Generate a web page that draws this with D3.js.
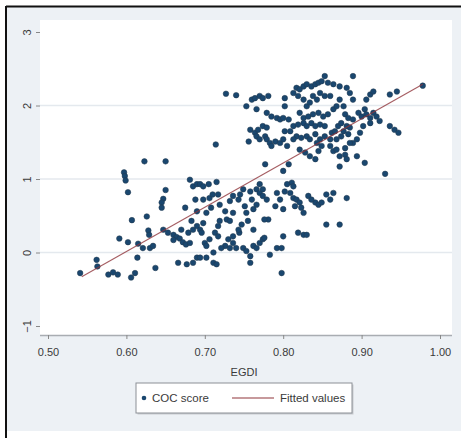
<!DOCTYPE html>
<html>
<head>
<meta charset="utf-8">
<script src="https://cdn.jsdelivr.net/npm/d3@7"></script>
<style>
  body { margin: 0; background: #fff; }
  text { font-family: "Liberation Sans", Arial, sans-serif; fill: #3a3a3a; }
</style>
</head>
<body>
<div id="svgHolderDiv"></div>
<script>
"use strict";

// tick values for both axes
var xTicks = [0.5, 0.6, 0.7, 0.8, 0.9, 1.0];
var yTicks = [-1, 0, 1, 2, 3];
var yGrid = [0, 1, 2];

// legend labels
var seriesNames = ["COC score", "Fitted values"];

// fitted values line (end points)
var fitX = [0.543, 0.978];
var fitY = [-0.33, 2.29];

// EGDI vs COC score, one pair per country-year
var points = [
  [0.541,-0.28],[0.562,-0.10],[0.563,-0.19],[0.577,-0.30],[0.583,-0.27],[0.589,-0.30],
  [0.591,0.19],[0.597,1.09],[0.598,1.04],[0.599,0.98],[0.602,0.82],[0.602,0.14],
  [0.606,-0.34],[0.611,-0.28],[0.607,0.44],[0.614,-0.07],[0.615,0.12],[0.621,0.06],
  [0.623,1.24],[0.626,0.49],[0.628,0.30],[0.629,0.24],[0.630,0.06],[0.637,-0.21],
  [0.647,0.31],[0.650,1.24],[0.650,0.85],[0.647,0.73],[0.645,0.68],[0.645,0.61],
  [0.634,0.09],[0.660,0.24],[0.664,0.21],[0.668,0.19],[0.672,0.14],[0.676,0.11],
  [0.679,0.27],[0.666,-0.14],[0.677,-0.16],[0.685,-0.14],[0.690,-0.07],[0.694,-0.07],
  [0.675,0.61],[0.681,0.99],[0.685,0.90],[0.690,0.93],[0.694,0.93],[0.698,0.90],
  [0.705,0.93],[0.715,0.96],[0.717,0.79],[0.683,0.43],[0.685,0.31],[0.690,0.36],
  [0.694,0.31],[0.698,0.40],[0.690,0.56],[0.698,0.72],[0.688,0.72],[0.702,0.54],
  [0.706,0.74],[0.710,0.79],[0.700,0.13],[0.702,0.09],[0.706,0.18],[0.702,-0.07],
  [0.711,-0.14],[0.715,-0.16],[0.713,0.27],[0.717,0.22],[0.717,0.36],[0.719,0.43],
  [0.728,0.45],[0.726,0.56],[0.732,0.43],[0.736,0.54],[0.743,0.72],[0.749,0.86],
  [0.751,0.63],[0.753,0.54],[0.758,0.83],[0.726,0.09],[0.732,0.06],[0.736,0.13],
  [0.740,0.06],[0.744,0.27],[0.749,0.06],[0.753,0.02],[0.758,-0.05],[0.758,-0.14],
  [0.762,0.09],[0.714,1.47],[0.727,2.16],[0.740,2.14],[0.760,0.72],[0.762,0.59],
  [0.766,0.86],[0.770,0.81],[0.774,0.77],[0.774,0.86],[0.779,0.72],[0.766,0.65],
  [0.770,0.13],[0.766,0.06],[0.774,0.18],[0.776,0.20],[0.783,-0.03],[0.781,0.45],
  [0.777,1.20],[0.792,0.06],[0.798,0.06],[0.800,0.22],[0.798,-0.28],[0.790,0.63],
  [0.800,0.59],[0.802,0.83],[0.800,1.11],[0.807,1.20],[0.811,0.95],[0.813,0.90],
  [0.813,0.74],[0.817,0.72],[0.821,0.68],[0.823,0.61],[0.826,0.54],[0.819,0.27],
  [0.826,0.24],[0.830,0.24],[0.841,0.68],[0.845,0.65],[0.849,0.68],[0.855,0.79],
  [0.860,0.72],[0.864,0.81],[0.881,0.74],[0.855,0.38],[0.872,0.38],[0.930,1.07],
  [0.805,0.93],[0.770,0.93],[0.753,1.99],[0.756,1.51],[0.758,1.67],[0.760,2.08],
  [0.764,2.10],[0.766,1.95],[0.770,2.13],[0.774,2.10],[0.781,2.13],[0.764,1.63],
  [0.768,1.67],[0.774,1.72],[0.779,1.70],[0.766,1.58],[0.770,1.54],[0.777,1.58],
  [0.779,1.54],[0.783,1.49],[0.785,1.45],[0.790,1.51],[0.796,1.49],[0.800,1.54],
  [0.805,1.45],[0.802,1.65],[0.779,1.90],[0.785,1.85],[0.792,1.83],[0.796,1.81],
  [0.800,1.83],[0.807,1.81],[0.802,1.99],[0.802,2.10],[0.813,2.17],[0.817,2.24],
  [0.821,2.22],[0.826,2.26],[0.830,2.29],[0.836,2.26],[0.841,2.29],[0.845,2.31],
  [0.849,2.33],[0.853,2.40],[0.857,2.31],[0.864,2.29],[0.872,2.26],[0.881,2.24],
  [0.889,2.40],[0.885,2.17],[0.889,2.08],[0.819,2.13],[0.826,2.08],[0.830,1.99],
  [0.834,2.04],[0.838,2.13],[0.843,2.08],[0.847,2.17],[0.853,2.13],[0.860,2.13],
  [0.821,1.90],[0.826,1.83],[0.832,1.85],[0.838,1.88],[0.845,1.90],[0.851,1.85],
  [0.857,1.88],[0.864,1.95],[0.868,1.99],[0.872,2.08],[0.877,1.99],[0.813,1.72],
  [0.819,1.74],[0.826,1.76],[0.830,1.72],[0.836,1.76],[0.841,1.72],[0.847,1.74],
  [0.817,1.58],[0.823,1.56],[0.830,1.58],[0.834,1.54],[0.841,1.61],[0.847,1.54],
  [0.853,1.58],[0.860,1.54],[0.862,1.63],[0.866,1.65],[0.870,1.72],[0.874,1.76],
  [0.879,1.88],[0.883,1.83],[0.881,1.72],[0.885,1.70],[0.889,1.81],[0.896,1.90],
  [0.900,1.85],[0.904,1.95],[0.906,2.08],[0.911,2.15],[0.915,2.19],[0.906,1.88],
  [0.911,1.83],[0.915,1.90],[0.919,1.85],[0.923,1.79],[0.911,1.76],[0.902,1.72],
  [0.898,1.63],[0.894,1.54],[0.889,1.49],[0.936,2.15],[0.945,2.19],[0.936,1.72],
  [0.942,1.67],[0.947,1.63],[0.978,2.27],[0.821,1.40],[0.828,1.36],[0.834,1.31],
  [0.841,1.27],[0.845,1.38],[0.849,1.45],[0.860,1.45],[0.864,1.38],[0.868,1.40],
  [0.872,1.31],[0.872,1.17],[0.879,1.33],[0.879,1.42],[0.885,1.49],[0.894,1.31],
  [0.904,1.22],[0.881,1.27],[0.868,1.54],[0.874,1.58],[0.813,1.54],[0.809,1.65],
  [0.843,1.49],[0.853,1.72],[0.877,1.65],[0.883,1.61],[0.747,0.38],[0.755,0.43],
  [0.743,0.31],[0.776,0.45],[0.762,0.31],[0.708,0.61],[0.719,0.65],[0.732,0.70],
  [0.736,0.77],[0.745,0.79],[0.696,0.27],[0.721,0.06],[0.711,0.00],[0.730,0.18],
  [0.736,0.22],[0.660,0.17],[0.653,0.27],[0.681,0.13],[0.670,0.31],[0.792,0.81],
  [0.796,0.72],[0.809,0.81],[0.815,0.63],[0.832,0.77],[0.836,0.72]
];

var svg = d3.select("#svgHolderDiv").append("svg")
    .attr("width", 461)
    .attr("height", 438);

// outer graph region (stata style light bluish gray) with the black frame on top/left
svg.append("rect")
    .attr("x", 6).attr("y", 7)
    .attr("width", 455).attr("height", 424)
    .attr("fill", "#edf1f5");
svg.append("line")
    .attr("x1", 6).attr("y1", 6.5).attr("x2", 461).attr("y2", 6.5)
    .attr("stroke", "#111").attr("stroke-width", 2);
svg.append("line")
    .attr("x1", 6).attr("y1", 6).attr("x2", 6).attr("y2", 438)
    .attr("stroke", "#111").attr("stroke-width", 2);

var plot = { left: 40, right: 452, top: 20, bottom: 335 };

var x = d3.scaleLinear().domain([0.5, 1.0]).range([48, 440]),
    y = d3.scaleLinear().domain([-1, 3]).range([326, 32]);

// inner plot region
svg.append("rect")
    .attr("x", plot.left).attr("y", plot.top)
    .attr("width", plot.right - plot.left)
    .attr("height", plot.bottom - plot.top)
    .attr("fill", "#fff");

// gridlines
svg.selectAll(".grid")
    .data(yGrid)
    .enter().append("line")
    .attr("class", "grid")
    .attr("x1", plot.left).attr("x2", plot.right)
    .attr("y1", function (d) { return y(d); })
    .attr("y2", function (d) { return y(d); })
    .attr("stroke", "#e4e9ee").attr("stroke-width", 1.5);

// x axis
var xAxis = svg.append("g")
    .attr("class", "axis axis--x")
    .attr("transform", "translate(0," + plot.bottom + ")")
    .call(d3.axisBottom(x).tickValues(xTicks).tickFormat(d3.format(".2f")).tickSize(4).tickSizeOuter(0).tickPadding(9));
xAxis.select(".domain").attr("d", "M" + plot.left + ",0.5H" + plot.right).attr("stroke", "#a9adb2").attr("stroke-width", 1.5);
xAxis.selectAll(".tick line").attr("stroke", "#888");
xAxis.selectAll("text").attr("font-size", "11px").style("fill", "#3a3a3a");

// y axis, labels rotated like stata does
var yAxis = svg.append("g")
    .attr("class", "axis axis--y")
    .attr("transform", "translate(" + plot.left + ",0)")
    .call(d3.axisLeft(y).tickValues(yTicks).tickFormat(d3.format("d")).tickSize(4).tickSizeOuter(0).tickPadding(4));
yAxis.select(".domain").attr("stroke", "none");
yAxis.selectAll(".tick line").attr("stroke", "#888");
yAxis.selectAll("text")
    .attr("font-size", "11px")
    .attr("text-anchor", "middle")
    .attr("x", -13).attr("dy", "0")
    .attr("transform", "rotate(-90,-13,0)")
    .attr("y", 4)
    .style("fill", "#3a3a3a");

svg.append("text")
    .attr("x", 244).attr("y", 376)
    .attr("text-anchor", "middle")
    .attr("font-size", "11px")
    .text("EGDI");

// scatter points
svg.selectAll(".dot")
    .data(points)
    .enter().append("circle")
    .attr("class", "dot")
    .attr("cx", function (d) { return x(d[0]); })
    .attr("cy", function (d) { return y(d[1]); })
    .attr("r", 2.8)
    .attr("fill", "#1a476f")
    .attr("stroke", "#22384d").attr("stroke-width", 0.5);

// fitted values
svg.append("line")
    .attr("x1", x(fitX[0])).attr("y1", y(fitY[0]))
    .attr("x2", x(fitX[1])).attr("y2", y(fitY[1]))
    .attr("stroke", "#90353b").attr("stroke-width", 1.1).attr("opacity", 0.8);

// legend
var lg = svg.append("g").attr("transform", "translate(136,383)");
lg.append("rect")
    .attr("x", 1.5).attr("y", 1.5).attr("width", 216).attr("height", 30)
    .attr("fill", "#c9ccd0");
lg.append("rect")
    .attr("width", 216).attr("height", 30)
    .attr("fill", "#fff").attr("stroke", "#8c9096");
lg.append("circle")
    .attr("cx", 8).attr("cy", 15).attr("r", 2.3).attr("fill", "#1a476f");
lg.append("text")
    .attr("x", 16).attr("y", 19).attr("font-size", "11.5px")
    .text(seriesNames[0]);
lg.append("line")
    .attr("x1", 96).attr("x2", 138).attr("y1", 15).attr("y2", 15)
    .attr("stroke", "#90353b").attr("stroke-width", 1.1);
lg.append("text")
    .attr("x", 144).attr("y", 19).attr("font-size", "11.5px")
    .text(seriesNames[1]);
</script>
</body>
</html>
